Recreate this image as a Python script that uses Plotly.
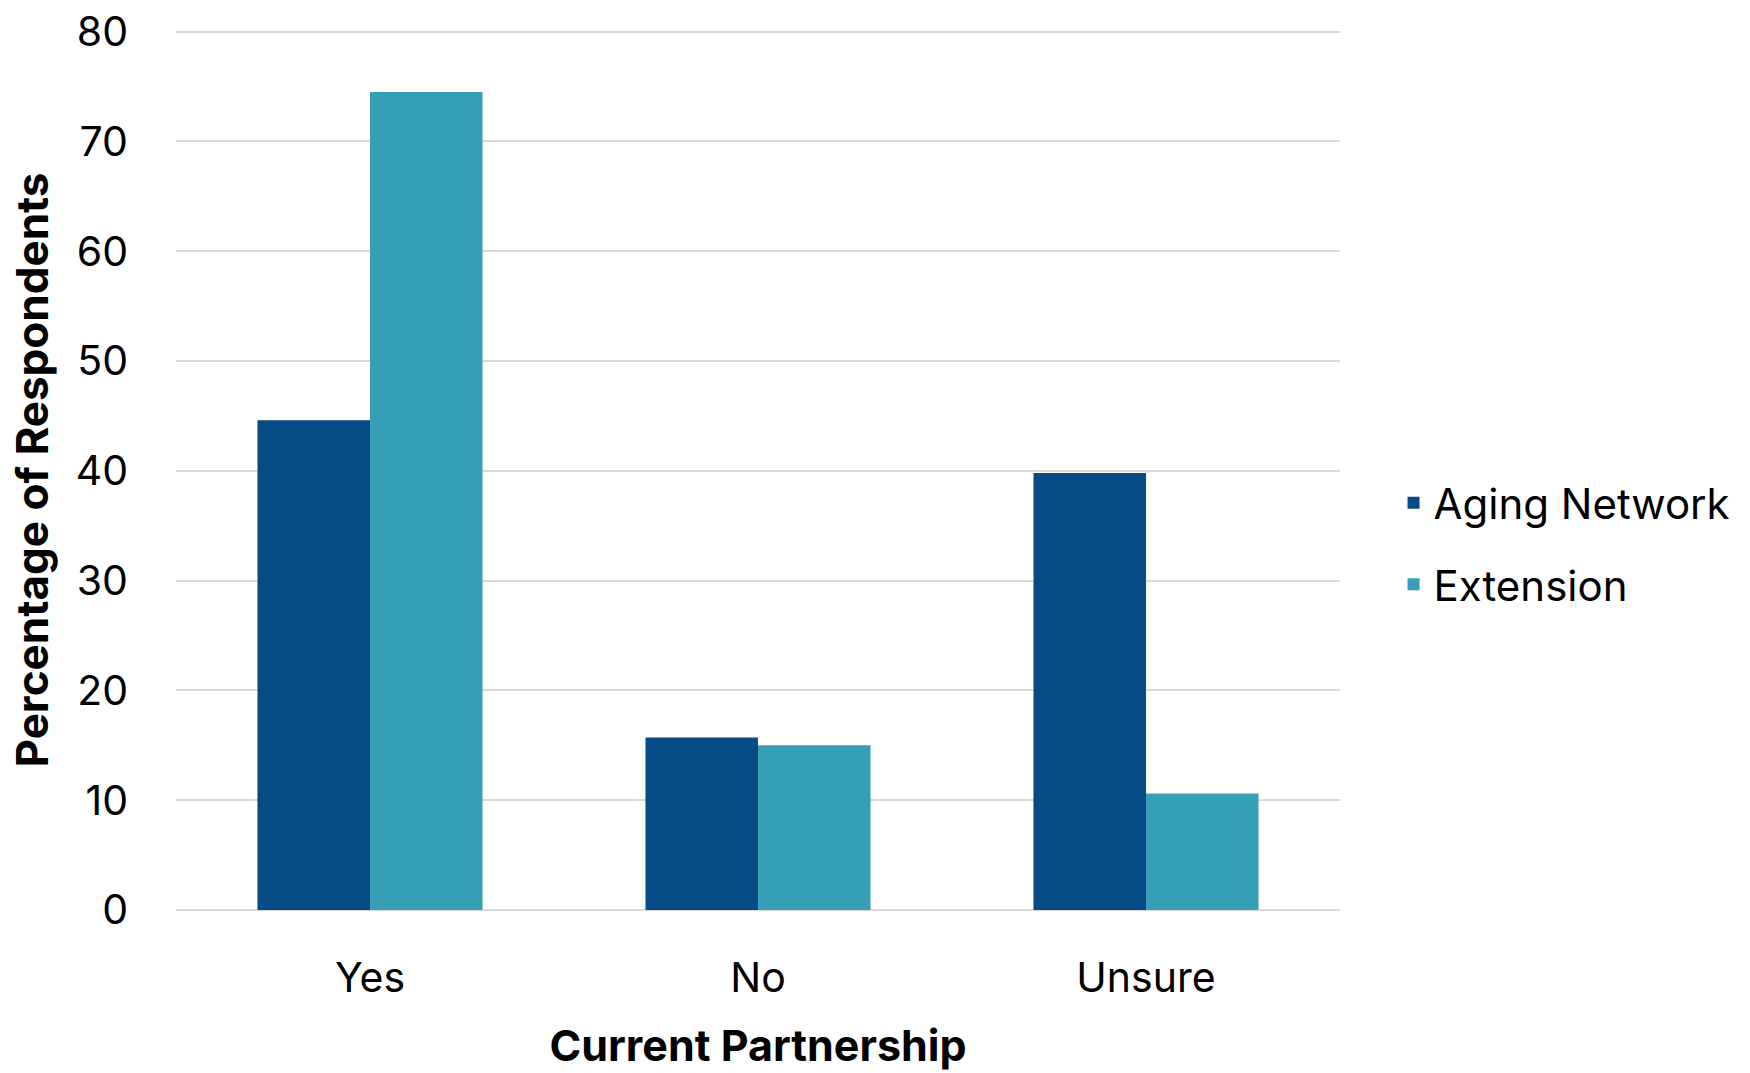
import plotly.graph_objects as go

categories = ["Yes", "No", "Unsure"]
aging_network = [44.6, 15.7, 39.8]
extension = [74.5, 15.0, 10.6]
y_ticks = [0, 10, 20, 30, 40, 50, 60, 70, 80]

FONT = "Inter, Open Sans, sans-serif"

fig = go.Figure()
fig.add_trace(go.Bar(name="Aging Network", x=categories, y=aging_network, legendgroup="a",
                     marker=dict(color="#064B86", line=dict(width=0))))
fig.add_trace(go.Bar(name="Extension", x=categories, y=extension, legendgroup="b",
                     marker=dict(color="#369EB5", line=dict(width=0))))

fig.update_layout(
    width=1750, height=1073,
    barmode="group", bargap=0.42, bargroupgap=0,
    plot_bgcolor="white", paper_bgcolor="white",
    margin=dict(l=176, r=410, t=30, b=163, autoexpand=False),
    font=dict(family=FONT, size=41, color="black"),
    legend=dict(x=1.046, y=0.416, xanchor="left", yanchor="middle",
                font=dict(size=42), tracegroupgap=24, itemwidth=30,
                traceorder="grouped"),
    xaxis=dict(title=dict(text="<b>Current Partnership</b>", font=dict(size=43), standoff=29),
               showline=False, ticks="", tickfont=dict(size=41), automargin=False,
               ticklabelstandoff=40, ticklabeloverflow="allow"),
    yaxis=dict(title=dict(text="<b>Percentage of Respondents</b>", font=dict(size=44), standoff=13),
               range=[0, 80.15], tickvals=y_ticks, showgrid=True, gridcolor="#D9D9D9", gridwidth=2,
               zeroline=True, zerolinecolor="#D9D9D9", zerolinewidth=2, automargin=False,
               ticks="", tickfont=dict(size=41), ticklabelstandoff=47, ticklabeloverflow="allow"),
)

fig.write_html("out.html", config={"displayModeBar": False},
               post_script="document.body.style.margin='0';")
